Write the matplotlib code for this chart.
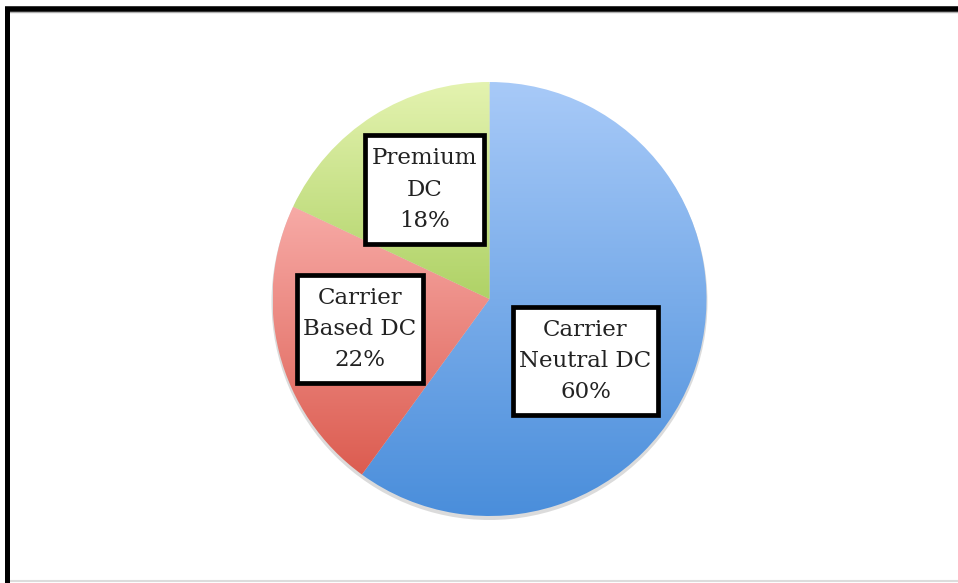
import matplotlib.pyplot as plt
import numpy as np
from matplotlib.colors import LinearSegmentedColormap
from matplotlib.patches import Circle, Rectangle

# data
labels = ["Carrier\nNeutral DC\n60%", "Carrier\nBased DC\n22%", "Premium\nDC\n18%"]
shares = [60, 22, 18]
tops = ["#a8caf8", "#f7aaa6", "#e4f3b0"]
bottoms = ["#4a8edb", "#dc5c50", "#afd266"]
label_pos = [(585.5, 222), (360, 254), (424.5, 393.5)]  # box centres, pixels from bottom-left

W, H = 958, 583
cx, cy, r = 489.5, 284, 217

fig = plt.figure(figsize=(W / 100, H / 100), dpi=100)
ax = fig.add_axes([0, 0, 1, 1])

# faint drop shadow
ax.add_patch(Circle((cx, cy - 3), r + 1, color="#9a9a9a", alpha=0.35, lw=0, zorder=0))

wedges, _ = ax.pie(shares, startangle=90, counterclock=False, radius=r,
                   center=(cx, cy), wedgeprops=dict(linewidth=0))

grad = np.linspace(1, 0, 256).reshape(-1, 1)
for w, top, bot in zip(wedges, tops, bottoms):
    w.set_facecolor("none")
    ext = w.get_path().get_extents()
    cmap = LinearSegmentedColormap.from_list("g", [bot, top])
    im = ax.imshow(grad, cmap=cmap, aspect="auto", zorder=1,
                   extent=[ext.x0, ext.x1, ext.y0, ext.y1], origin="upper")
    im.set_clip_path(w)

ax.set_xlim(0, W)
ax.set_ylim(0, H)
ax.set_aspect("equal", adjustable="box")
ax.axis("off")

texts = []
for txt, (x, y) in zip(labels, label_pos):
    t = ax.text(x, y, txt, ha="center", va="center", fontsize=16.5,
                family="DejaVu Serif", color="#222222", linespacing=1.55, zorder=4)
    texts.append(t)

# white boxes around labels, more padding vertically than horizontally
fig.canvas.draw()
inv = ax.transData.inverted()
for t in texts:
    bb = t.get_window_extent().transformed(inv)
    ax.add_patch(Rectangle((bb.x0 - 6.5, bb.y0 - 12), bb.width + 13, bb.height + 24,
                           fc="white", ec="black", lw=3.4, zorder=3))

# outer frame (top and left edges visible)
ax.plot([5, W], [H - 8.5, H - 8.5], color="black", lw=4, solid_capstyle="butt", zorder=5)
ax.plot([7.5, 7.5], [0, H - 6.5], color="black", lw=3.6, solid_capstyle="butt", zorder=5)
ax.plot([10, W], [H - 12, H - 12], color="#b0b0b0", lw=1, zorder=4)
ax.plot([10, W], [2.5, 2.5], color="#dcdcdc", lw=1.5, zorder=4)

fig.savefig("out.png", dpi=100)
